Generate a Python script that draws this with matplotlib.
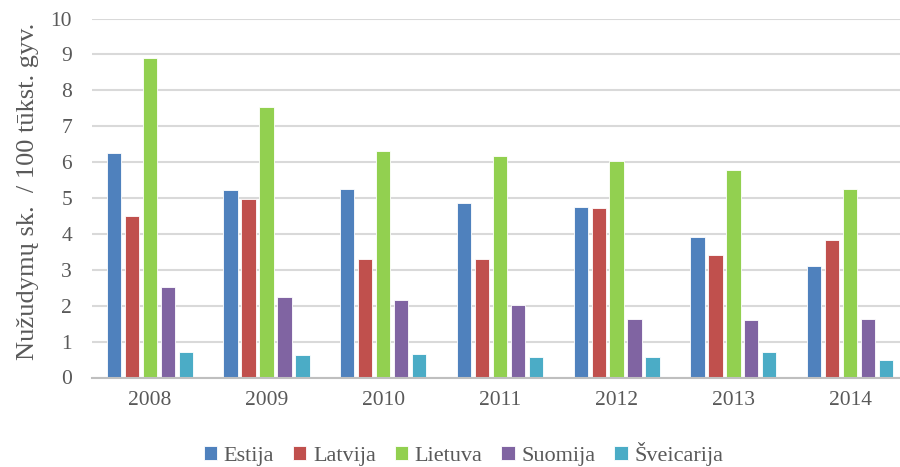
import numpy as np
import matplotlib.pyplot as plt

# Data
years = ["2008", "2009", "2010", "2011", "2012", "2013", "2014"]
countries = ["Estija", "Latvija", "Lietuva", "Suomija", "Šveicarija"]
estija = [6.26, 5.22, 5.24, 4.87, 4.74, 3.92, 3.10]
latvija = [4.50, 4.98, 3.29, 3.31, 4.73, 3.40, 3.84]
lietuva = [8.89, 7.53, 6.31, 6.17, 6.02, 5.78, 5.26]
suomija = [2.51, 2.24, 2.17, 2.01, 1.62, 1.61, 1.62]
sveicarija = [0.71, 0.64, 0.66, 0.57, 0.58, 0.71, 0.48]
series = [estija, latvija, lietuva, suomija, sveicarija]
colors = ["#4F81BD", "#C0504D", "#92D050", "#8064A2", "#4BACC6"]

txt_color = "#595959"
plt.rcParams['font.family'] = ['Liberation Serif', 'DejaVu Serif']

dpi = 100
fig = plt.figure(figsize=(900/dpi, 467/dpi), dpi=dpi)
# axes: left edge at 91.5 px, one category = 116.7 px
cat_px = 116.7
left_px = 91.5
ax = fig.add_axes([left_px/900, 1-377.5/467, (900-left_px)/900, (377.5-18.5)/467])

x = np.arange(len(years))
step = 0.154
width = 0.123
for i, (vals, name, col) in enumerate(zip(series, countries, colors)):
    offs = (i - 2) * step
    ax.bar(x + offs, vals, width=width, color=col, edgecolor='white', linewidth=0.6,
           label=name, zorder=3)

ax.set_xlim(-0.5, -0.5 + (900-left_px)/cat_px)
ax.set_ylim(0, 10)
ax.set_yticks(range(0, 11))
ax.set_xticks(x)
ax.set_xticklabels(years)
ax.grid(axis='y', color='#D9D9D9', linewidth=1.5, zorder=0)
for s in ['top', 'right', 'left']:
    ax.spines[s].set_visible(False)
ax.spines['bottom'].set_color('#BFBFBF')
ax.spines['bottom'].set_linewidth(1.5)
ax.spines['bottom'].set_zorder(4)
ax.tick_params(axis='both', length=0, labelsize=15.5, colors=txt_color)
ax.tick_params(axis='x', pad=10)
ax.tick_params(axis='y', pad=14)

fig.text(28/900, 1-191/467, "Nužudymų sk.  / 100 tūkst. gyv.", rotation=90,
         fontsize=19, color=txt_color, ha='center', va='center')

leg = fig.legend(loc='center', bbox_to_anchor=(463.5/900, 1-454/467), ncol=5, frameon=False,
                 fontsize=16, handlelength=0.6, handleheight=0.6, handletextpad=0.3,
                 columnspacing=0.85, labelcolor=txt_color, borderpad=0.2)

fig.savefig("out.png", dpi=dpi)
